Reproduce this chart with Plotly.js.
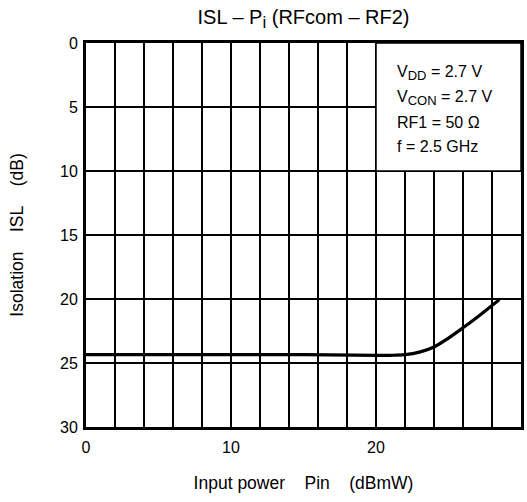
<!DOCTYPE html>
<html><head><meta charset="utf-8">
<script src="https://cdn.plot.ly/plotly-3.0.1.min.js"></script>
<style>body{margin:0;background:#fff}#c{width:527px;height:502px}</style>
</head><body><div id="c"></div>
<script>
const pin = [0, 5, 10, 15, 20, 21, 22, 23, 24, 25, 26, 27, 28, 28.5];
const isl = [24.35, 24.35, 24.35, 24.35, 24.4, 24.4, 24.35, 24.15, 23.75, 23.05, 22.25, 21.4, 20.5, 20.05];
const xTickVals = [0, 10, 20, 30];
const xGridVals = [2,4,6,8,12,14,16,18,22,24,26,28];
const yTickVals = [0,5,10,15,20,25,30];
const condLines = ['V<sub><span style="font-size:13px">DD</span></sub> = 2.7 V','V<sub><span style="font-size:13px">CON</span></sub> = 2.7 V','RF1 = 50 Ω','f = 2.5 GHz'];
const condY = [2.35, 4.3, 6.2, 8.1];

const F = 'Liberation Sans, Arial, sans-serif';
const data = [{x: pin, y: isl, type:'scatter', mode:'lines', line:{color:'#000', width:3.2, shape:'spline', smoothing:1}, hoverinfo:'none'}];
const annotations = condLines.map((t,i)=>({x:21.3, y:condY[i], xref:'x', yref:'y', text:t, showarrow:false, xanchor:'left', yanchor:'middle', font:{family:F, size:16, color:'#000'}}));
const layout = {
  width:527, height:502, margin:{l:86, r:6, t:43, b:75},
  paper_bgcolor:'#fff', plot_bgcolor:'#fff', showlegend:false,
  title:{text:'ISL – P<sub><span style="font-size:17px">i</span></sub> (RFcom – RF2)', font:{family:F, size:20, color:'#000'}, x:0.576, xanchor:'center', y:0.966, yanchor:'middle', yref:'container'},
  font:{family:F, color:'#000'},
  xaxis:{range:[0,30], tickvals:xTickVals, ticks:'', showgrid:true, gridcolor:'#000', gridwidth:1.5,
    minor:{tickvals:xGridVals, showgrid:true, gridcolor:'#000', gridwidth:1.5, ticks:''},
    showline:true, linecolor:'#000', linewidth:3, mirror:true, zeroline:false, tickfont:{family:F, size:16}, ticklabelstandoff:4,
    title:{text:'Input power\u00A0\u00A0\u00A0\u00A0Pin\u00A0\u00A0\u00A0\u00A0(dBmW)', font:{family:F, size:17.5}, standoff:22}},
  yaxis:{range:[30,0], tickvals:yTickVals, ticks:'', showgrid:true, gridcolor:'#000', gridwidth:1.5,
    showline:true, linecolor:'#000', linewidth:3, mirror:true, zeroline:false, tickfont:{family:F, size:16}, ticklabelstandoff:2,
    title:{text:'Isolation\u00A0\u00A0\u00A0\u00A0ISL\u00A0\u00A0\u00A0\u00A0(dB)', font:{family:F, size:17.5}, standoff:32}},
  shapes:[{type:'rect', xref:'x', yref:'y', x0:20, x1:30, y0:0, y1:10, fillcolor:'#fff', line:{color:'#000', width:1.5}, layer:'between'}],
  annotations: annotations
};
Plotly.newPlot('c', data, layout, {staticPlot:true, displayModeBar:false});
</script></body></html>
